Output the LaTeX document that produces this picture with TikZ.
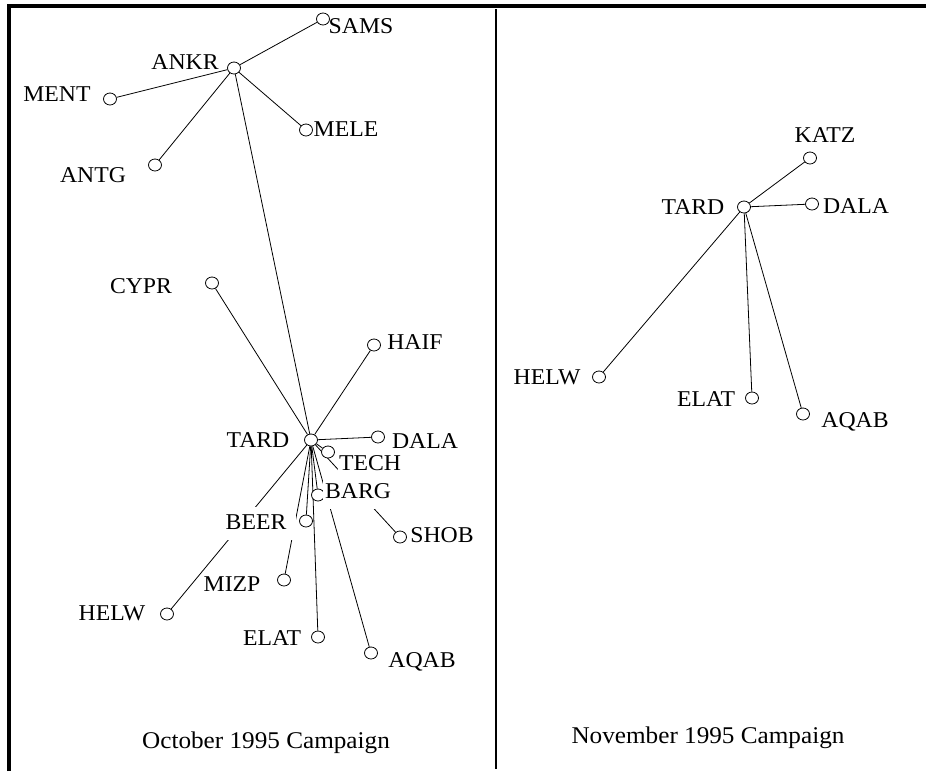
\documentclass[tikz,border=0pt]{standalone}
\usepackage{fontspec}
\setmainfont{Liberation Serif}[FakeStretch=1.05]
\usetikzlibrary{shapes.geometric,backgrounds}
\tikzset{
  stn/.style={ellipse,draw,fill=white,line width=0.8pt,minimum width=13pt,minimum height=12pt,inner sep=0pt},
  lab/.style={anchor=base,inner sep=0pt,font=\fontsize{22.6}{22.6}\selectfont},
  occl/.style={fill=white,text height=22pt,text depth=11pt,inner ysep=0pt},
  captxt/.style={anchor=base,inner sep=0pt,font=\fontsize{24}{24}\selectfont},
  conn/.style={line width=0.8pt},
  framebar/.style={line width=4pt},
  divider/.style={line width=2pt}
}
\begin{document}
\begin{tikzpicture}[x=1pt,y=-1pt]
\useasboundingbox (0,0) rectangle (926,771);
% frame
\draw[framebar] (9,771) -- (9,5.5) -- (926,5.5);
\draw[divider] (496,9) -- (496,769);
% ---------- left panel: stations
\node[stn] (lSAMS) at (323,19) {};
\node[stn] (lANKR) at (234,68) {};
\node[stn] (lMENT) at (110,99) {};
\node[stn] (lMELE) at (306,130) {};
\node[stn] (lANTG) at (155,165) {};
\node[stn] (lCYPR) at (212,283) {};
\node[stn] (lHAIF) at (374,345) {};
\node[stn] (lTARD) at (311,440) {};
\node[stn] (lDALA) at (378,437) {};
\node[stn] (lTECH) at (328,452) {};
\node[stn] (lBARG) at (318,495) {};
\node[stn] (lBEER) at (306,521) {};
\node[stn] (lSHOB) at (400,537) {};
\node[stn] (lMIZP) at (284,580) {};
\node[stn] (lHELW) at (167,614) {};
\node[stn] (lELAT) at (318,637) {};
\node[stn] (lAQAB) at (371,653) {};
% left labels
\node[lab] (tSAMS) at (361,33) {SAMS};
\node[lab] (tANKR) at (185,69) {ANKR};
\node[lab] (tMENT) at (57,101) {MENT};
\node[lab] (tMELE) at (346,136) {MELE};
\node[lab] (tANTG) at (93,182) {ANTG};
\node[lab] (tCYPR) at (141,293) {CYPR};
\node[lab] (tHAIF) at (415,349) {HAIF};
\node[lab] (tTARD) at (258,447) {TARD};
\node[lab] (tDALA) at (425,448) {DALA};
\node[lab,occl,inner xsep=1pt,text depth=6pt] (tTECH) at (370,470) {TECH};
\node[lab,occl,inner xsep=2pt] (tBARG) at (358,498) {BARG};
\node[lab,occl,inner xsep=10pt] (tBEER) at (256,529) {BEER};
\node[lab] (tSHOB) at (442,542) {SHOB};
\node[lab] (tMIZP) at (232,591) {MIZP};
\node[lab] (tHELW) at (112,620) {HELW};
\node[lab] (tELAT) at (272,645) {ELAT};
\node[lab] (tAQAB) at (422,667) {AQAB};
\node[captxt] (capOct) at (266,748) {October 1995 Campaign};
% ---------- right panel: stations
\node[stn] (rKATZ) at (810,158) {};
\node[stn] (rTARD) at (744,207) {};
\node[stn] (rDALA) at (812,204) {};
\node[stn] (rHELW) at (599,377) {};
\node[stn] (rELAT) at (752,398) {};
\node[stn] (rAQAB) at (803,414) {};
% right labels
\node[lab] (uKATZ) at (825,142) {KATZ};
\node[lab] (uTARD) at (693,214) {TARD};
\node[lab] (uDALA) at (856,213) {DALA};
\node[lab] (uHELW) at (547,384) {HELW};
\node[lab] (uELAT) at (706,406) {ELAT};
\node[lab] (uAQAB) at (855,427) {AQAB};
\node[captxt] (capNov) at (708,743) {November 1995 Campaign};
% ---------- connectors (behind)
\begin{pgfonlayer}{background}
\draw[conn] (lANKR) -- (lSAMS);
\draw[conn] (lANKR) -- (lMENT);
\draw[conn] (lANKR) -- (lMELE);
\draw[conn] (lANKR) -- (lANTG);
\draw[conn] (lANKR) -- (lTARD);
\draw[conn] (lTARD) -- (lCYPR);
\draw[conn] (lTARD) -- (lHAIF);
\draw[conn] (lTARD) -- (lDALA);
\draw[conn] (lTARD) -- (lTECH);
\draw[conn] (lTARD) -- (lSHOB);
\draw[conn] (lTARD) -- (lBARG);
\draw[conn] (lTARD) -- (lBEER);
\draw[conn] (lTARD) -- (lMIZP);
\draw[conn] (lTARD) -- (lHELW);
\draw[conn] (lTARD) -- (lELAT);
\draw[conn] (lTARD) -- (lAQAB);
\draw[conn] (rTARD) -- (rKATZ);
\draw[conn] (rTARD) -- (rDALA);
\draw[conn] (rTARD) -- (rHELW);
\draw[conn] (rTARD) -- (rELAT);
\draw[conn] (rTARD) -- (rAQAB);
\end{pgfonlayer}
\end{tikzpicture}
\end{document}
